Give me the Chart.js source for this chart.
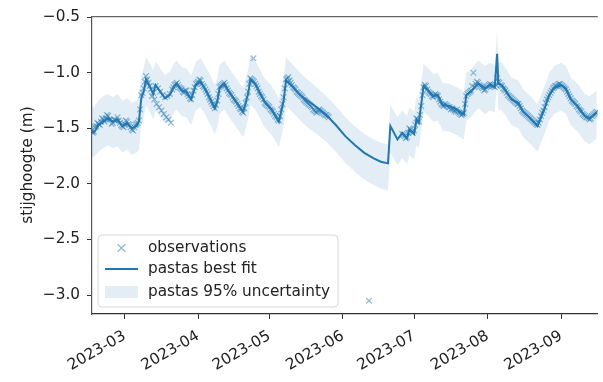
<!DOCTYPE html>
<html>
<head>
<meta charset="utf-8">
<script src="https://cdn.jsdelivr.net/npm/chart.js@4/dist/chart.umd.min.js"></script>
<style>
  html, body { margin: 0; padding: 0; background: #fff; }
  #wrap { width: 603px; height: 382px; position: relative; }
</style>
</head>
<body>
<div id="wrap"><canvas id="c" width="603" height="382"></canvas></div>
<script>
// Groundwater head (stijghoogte) – observations, model fit and 95% band
const fitDates = [
  '2023-02-15','2023-02-16','2023-02-18','2023-02-20','2023-02-22','2023-02-24','2023-02-26','2023-02-28',
  '2023-03-02','2023-03-04','2023-03-06','2023-03-07','2023-03-08','2023-03-09','2023-03-10','2023-03-12',
  '2023-03-13','2023-03-14','2023-03-16','2023-03-18','2023-03-20','2023-03-22','2023-03-23','2023-03-25',
  '2023-03-27','2023-03-29','2023-03-31','2023-04-02','2023-04-04','2023-04-06','2023-04-08','2023-04-09',
  '2023-04-10','2023-04-12','2023-04-14','2023-04-16','2023-04-18','2023-04-20','2023-04-22','2023-04-23',
  '2023-04-25','2023-04-27','2023-04-29','2023-05-02','2023-05-05','2023-05-07','2023-05-08','2023-05-11',
  '2023-05-14','2023-05-17','2023-05-21','2023-05-25','2023-05-29','2023-06-02','2023-06-06','2023-06-10',
  '2023-06-14','2023-06-17','2023-06-20','2023-06-21','2023-06-24','2023-06-26','2023-06-28','2023-06-29',
  '2023-07-01','2023-07-02','2023-07-03','2023-07-05','2023-07-07','2023-07-09','2023-07-11','2023-07-13',
  '2023-07-16','2023-07-19','2023-07-22','2023-07-23','2023-07-25','2023-07-28','2023-07-31','2023-08-02',
  '2023-08-04','2023-08-05','2023-08-05T12:00','2023-08-07','2023-08-09','2023-08-11','2023-08-14','2023-08-16',
  '2023-08-19','2023-08-22','2023-08-25','2023-08-27','2023-08-29','2023-09-01','2023-09-03','2023-09-05',
  '2023-09-08','2023-09-11','2023-09-13','2023-09-16'
];
const fitValues = [
  -1.52,-1.54,-1.47,-1.44,-1.41,-1.44,-1.42,-1.48,
  -1.455,-1.50,-1.48,-1.44,-1.23,-1.17,-1.06,-1.14,
  -1.19,-1.11,-1.17,-1.23,-1.20,-1.12,-1.10,-1.16,
  -1.17,-1.24,-1.11,-1.08,-1.15,-1.23,-1.32,-1.26,
  -1.14,-1.10,-1.17,-1.23,-1.29,-1.35,-1.19,-1.06,
  -1.10,-1.18,-1.26,-1.33,-1.44,-1.25,-1.07,-1.13,
  -1.20,-1.25,-1.31,-1.38,-1.47,-1.57,-1.65,-1.72,
  -1.77,-1.80,-1.815,-1.48,-1.60,-1.54,-1.59,-1.51,
  -1.55,-1.42,-1.45,-1.12,-1.16,-1.21,-1.20,-1.29,
  -1.30,-1.33,-1.375,-1.20,-1.17,-1.095,-1.14,-1.11,
  -1.13,-0.83,-1.10,-1.11,-1.17,-1.24,-1.27,-1.35,
  -1.41,-1.48,-1.32,-1.20,-1.14,-1.11,-1.14,-1.24,
  -1.30,-1.39,-1.41,-1.36
];
const bandUpper = [
  -1.30,-1.31,-1.25,-1.21,-1.19,-1.22,-1.19,-1.25,
  -1.23,-1.27,-1.25,-1.22,-1.02,-0.96,-0.86,-0.93,
  -0.98,-0.90,-0.96,-1.02,-0.99,-0.91,-0.89,-0.95,
  -0.96,-1.03,-0.90,-0.87,-0.94,-1.02,-1.11,-1.05,
  -0.93,-0.89,-0.96,-1.02,-1.08,-1.14,-0.98,-0.85,
  -0.89,-0.97,-1.05,-1.12,-1.23,-1.04,-0.86,-0.93,
  -1.00,-1.06,-1.13,-1.21,-1.30,-1.40,-1.48,-1.55,
  -1.60,-1.63,-1.645,-1.29,-1.40,-1.34,-1.39,-1.31,
  -1.35,-1.22,-1.25,-0.92,-0.96,-1.01,-1.00,-1.09,
  -1.10,-1.13,-1.17,-1.00,-0.97,-0.89,-0.94,-0.91,
  -0.93,-0.62,-0.90,-0.91,-0.97,-1.04,-1.07,-1.15,
  -1.21,-1.28,-1.12,-1.00,-0.94,-0.91,-0.94,-1.04,
  -1.10,-1.19,-1.21,-1.16
];
const bandLower = [
  -1.74,-1.76,-1.71,-1.68,-1.65,-1.68,-1.66,-1.72,
  -1.69,-1.74,-1.72,-1.69,-1.47,-1.41,-1.29,-1.37,
  -1.42,-1.34,-1.40,-1.46,-1.43,-1.35,-1.33,-1.39,
  -1.40,-1.47,-1.34,-1.31,-1.38,-1.46,-1.55,-1.49,
  -1.37,-1.33,-1.40,-1.46,-1.52,-1.58,-1.42,-1.29,
  -1.33,-1.41,-1.49,-1.56,-1.67,-1.48,-1.30,-1.36,
  -1.43,-1.49,-1.55,-1.62,-1.71,-1.81,-1.89,-1.96,
  -2.01,-2.04,-2.06,-1.72,-1.83,-1.77,-1.82,-1.74,
  -1.78,-1.65,-1.68,-1.35,-1.39,-1.44,-1.43,-1.52,
  -1.53,-1.56,-1.60,-1.43,-1.40,-1.32,-1.37,-1.34,
  -1.36,-1.06,-1.33,-1.34,-1.40,-1.47,-1.50,-1.58,
  -1.64,-1.71,-1.55,-1.43,-1.37,-1.34,-1.37,-1.47,
  -1.53,-1.62,-1.64,-1.59
];

// daily readings (midnight)
const obsDates = [
  '2023-02-15','2023-02-16','2023-02-17','2023-02-18','2023-02-19','2023-02-20','2023-02-21','2023-02-22',
  '2023-02-23','2023-02-24','2023-02-25','2023-02-26','2023-02-27','2023-02-28','2023-03-01','2023-03-02',
  '2023-03-03','2023-03-04','2023-03-05','2023-03-06','2023-03-07','2023-03-08','2023-03-09','2023-03-10',
  '2023-03-11','2023-03-12','2023-03-13','2023-03-13T12:00','2023-03-14','2023-03-14T12:00','2023-03-15','2023-03-15T12:00',
  '2023-03-16','2023-03-16T12:00','2023-03-17','2023-03-17T12:00','2023-03-18','2023-03-18T12:00','2023-03-19','2023-03-19T12:00',
  '2023-03-20','2023-03-20T12:00','2023-03-21','2023-03-22','2023-03-23','2023-03-24','2023-03-25','2023-03-26',
  '2023-03-27','2023-03-28','2023-03-29','2023-03-30','2023-03-31','2023-04-01','2023-04-02','2023-04-03',
  '2023-04-04','2023-04-05','2023-04-06','2023-04-07','2023-04-08','2023-04-09','2023-04-10','2023-04-11',
  '2023-04-12','2023-04-13','2023-04-14','2023-04-15','2023-04-16','2023-04-17','2023-04-18','2023-04-19',
  '2023-04-20','2023-04-21','2023-04-22','2023-04-23','2023-04-24','2023-04-24T06:00','2023-04-25','2023-04-26',
  '2023-04-27','2023-04-28','2023-04-29','2023-04-30','2023-05-01','2023-05-02','2023-05-03','2023-05-04',
  '2023-05-05','2023-05-06','2023-05-07','2023-05-08','2023-05-09','2023-05-10','2023-05-11','2023-05-12',
  '2023-05-13','2023-05-14','2023-05-15','2023-05-16','2023-05-17','2023-05-18','2023-05-19','2023-05-20',
  '2023-05-21','2023-05-22','2023-05-23','2023-05-24','2023-05-25','2023-05-26','2023-06-12',
  '2023-06-26','2023-06-27','2023-06-28','2023-06-29','2023-06-30','2023-07-01','2023-07-02','2023-07-03',
  '2023-07-04','2023-07-05','2023-07-06','2023-07-07','2023-07-08','2023-07-09','2023-07-10','2023-07-11',
  '2023-07-12','2023-07-13','2023-07-14','2023-07-15','2023-07-16','2023-07-17','2023-07-18','2023-07-19',
  '2023-07-20','2023-07-21','2023-07-22','2023-07-23','2023-07-24','2023-07-25','2023-07-26','2023-07-26T12:00',
  '2023-07-27','2023-07-28','2023-07-29','2023-07-30','2023-07-31','2023-08-01','2023-08-02','2023-08-03',
  '2023-08-04','2023-08-05','2023-08-06','2023-08-07','2023-08-08','2023-08-09','2023-08-10','2023-08-11',
  '2023-08-12','2023-08-13','2023-08-14','2023-08-15','2023-08-16','2023-08-17','2023-08-18','2023-08-19',
  '2023-08-20','2023-08-21','2023-08-22','2023-08-23','2023-08-24','2023-08-25','2023-08-26','2023-08-27',
  '2023-08-28','2023-08-29','2023-08-30','2023-08-31','2023-09-01','2023-09-02','2023-09-03','2023-09-04',
  '2023-09-05','2023-09-06','2023-09-07','2023-09-08','2023-09-09','2023-09-10','2023-09-11','2023-09-12',
  '2023-09-13','2023-09-14','2023-09-15','2023-09-16'
];
const obsValues = [
  -1.50,-1.53,-1.48,-1.46,-1.44,-1.42,-1.41,-1.39,
  -1.42,-1.45,-1.43,-1.40,-1.45,-1.48,-1.46,-1.44,
  -1.47,-1.51,-1.49,-1.46,-1.43,-1.20,-1.14,-1.03,
  -1.09,-1.15,-1.18,-1.24,-1.12,-1.28,-1.14,-1.31,
  -1.17,-1.34,-1.20,-1.37,-1.22,-1.40,-1.21,-1.42,
  -1.19,-1.45,-1.15,-1.11,-1.09,-1.13,-1.15,-1.18,
  -1.16,-1.21,-1.24,-1.16,-1.10,-1.08,-1.07,-1.12,
  -1.15,-1.19,-1.24,-1.28,-1.32,-1.25,-1.13,-1.11,
  -1.09,-1.14,-1.18,-1.20,-1.24,-1.26,-1.30,-1.33,
  -1.36,-1.27,-1.17,-1.05,-1.07,-0.87,-1.10,-1.14,
  -1.19,-1.22,-1.27,-1.29,-1.31,-1.34,-1.37,-1.40,
  -1.43,-1.33,-1.22,-1.06,-1.04,-1.09,-1.13,-1.15,
  -1.18,-1.20,-1.22,-1.25,-1.27,-1.29,-1.31,-1.34,
  -1.36,-1.33,-1.35,-1.37,-1.38,-1.40,-3.05,
  -1.55,-1.57,-1.58,-1.50,-1.53,-1.52,-1.41,-1.44,
  -1.30,-1.13,-1.12,-1.17,-1.19,-1.22,-1.19,-1.21,
  -1.26,-1.29,-1.28,-1.30,-1.31,-1.32,-1.34,-1.33,
  -1.36,-1.38,-1.36,-1.21,-1.18,-1.16,-1.00,-1.13,
  -1.10,-1.09,-1.12,-1.14,-1.15,-1.12,-1.10,-1.12,
  -1.13,-1.05,-1.09,-1.12,-1.15,-1.18,-1.21,-1.23,
  -1.25,-1.27,-1.28,-1.32,-1.35,-1.37,-1.39,-1.41,
  -1.43,-1.45,-1.47,-1.42,-1.36,-1.31,-1.24,-1.20,
  -1.16,-1.13,-1.12,-1.10,-1.11,-1.13,-1.15,-1.19,
  -1.23,-1.26,-1.28,-1.31,-1.34,-1.37,-1.39,-1.40,
  -1.42,-1.39,-1.37,-1.35
];

// midday readings
const obsNoonDates = [
  '2023-02-15T12:00','2023-02-16T12:00','2023-02-17T12:00','2023-02-18T12:00','2023-02-19T12:00','2023-02-20T12:00',
  '2023-02-21T12:00','2023-02-22T12:00','2023-02-23T12:00','2023-02-24T12:00','2023-02-25T12:00','2023-02-26T12:00',
  '2023-02-27T12:00','2023-02-28T12:00','2023-03-01T12:00','2023-03-02T12:00','2023-03-03T12:00','2023-03-04T12:00',
  '2023-03-05T12:00','2023-03-06T12:00','2023-03-07T12:00','2023-03-08T12:00','2023-03-09T12:00','2023-03-10T12:00',
  '2023-03-11T12:00','2023-03-12T12:00',
  '2023-03-21T12:00','2023-03-22T12:00','2023-03-23T12:00','2023-03-24T12:00','2023-03-25T12:00','2023-03-26T12:00',
  '2023-03-27T12:00','2023-03-28T12:00','2023-03-29T12:00','2023-03-30T12:00','2023-03-31T12:00','2023-04-01T12:00',
  '2023-04-02T12:00','2023-04-03T12:00','2023-04-04T12:00','2023-04-05T12:00','2023-04-06T12:00','2023-04-07T12:00',
  '2023-04-08T12:00','2023-04-09T12:00','2023-04-10T12:00','2023-04-11T12:00','2023-04-12T12:00','2023-04-13T12:00',
  '2023-04-14T12:00','2023-04-15T12:00','2023-04-16T12:00','2023-04-17T12:00','2023-04-18T12:00','2023-04-19T12:00',
  '2023-04-20T12:00','2023-04-21T12:00','2023-04-22T12:00','2023-04-23T12:00','2023-04-24T12:00','2023-04-25T12:00',
  '2023-04-26T12:00','2023-04-27T12:00','2023-04-28T12:00','2023-04-29T12:00','2023-04-30T12:00','2023-05-01T12:00',
  '2023-05-02T12:00','2023-05-03T12:00','2023-05-04T12:00','2023-05-05T12:00','2023-05-06T12:00','2023-05-07T12:00',
  '2023-05-08T12:00','2023-05-09T12:00','2023-05-10T12:00','2023-05-11T12:00','2023-05-12T12:00','2023-05-13T12:00',
  '2023-05-14T12:00','2023-05-15T12:00','2023-05-16T12:00','2023-05-17T12:00','2023-05-18T12:00','2023-05-19T12:00',
  '2023-05-20T12:00','2023-05-21T12:00','2023-05-22T12:00','2023-05-23T12:00','2023-05-24T12:00','2023-05-25T12:00',
  '2023-06-26T12:00','2023-06-27T12:00','2023-06-28T12:00','2023-06-29T12:00','2023-06-30T12:00','2023-07-01T12:00',
  '2023-07-02T12:00','2023-07-03T12:00','2023-07-04T12:00','2023-07-05T12:00','2023-07-06T12:00','2023-07-07T12:00',
  '2023-07-08T12:00','2023-07-09T12:00','2023-07-10T12:00','2023-07-11T12:00','2023-07-12T12:00','2023-07-13T12:00',
  '2023-07-14T12:00','2023-07-15T12:00','2023-07-16T12:00','2023-07-17T12:00','2023-07-18T12:00','2023-07-19T12:00',
  '2023-07-20T12:00','2023-07-21T12:00','2023-07-22T12:00','2023-07-23T12:00','2023-07-24T12:00','2023-07-25T12:00',
  '2023-07-27T12:00','2023-07-28T12:00','2023-07-29T12:00','2023-07-30T12:00','2023-07-31T12:00','2023-08-01T12:00',
  '2023-08-02T12:00','2023-08-03T12:00','2023-08-04T12:00','2023-08-05T12:00','2023-08-06T12:00','2023-08-07T12:00',
  '2023-08-08T12:00','2023-08-09T12:00','2023-08-10T12:00','2023-08-11T12:00','2023-08-12T12:00','2023-08-13T12:00',
  '2023-08-14T12:00','2023-08-15T12:00','2023-08-16T12:00','2023-08-17T12:00','2023-08-18T12:00','2023-08-19T12:00',
  '2023-08-20T12:00','2023-08-21T12:00','2023-08-22T12:00','2023-08-23T12:00','2023-08-24T12:00','2023-08-25T12:00',
  '2023-08-26T12:00','2023-08-27T12:00','2023-08-28T12:00','2023-08-29T12:00','2023-08-30T12:00','2023-08-31T12:00',
  '2023-09-01T12:00','2023-09-02T12:00','2023-09-03T12:00','2023-09-04T12:00','2023-09-05T12:00','2023-09-06T12:00',
  '2023-09-07T12:00','2023-09-08T12:00','2023-09-09T12:00','2023-09-10T12:00','2023-09-11T12:00','2023-09-12T12:00',
  '2023-09-13T12:00','2023-09-14T12:00','2023-09-15T12:00'
];
const obsNoonValues = [
  -1.54,-1.49,-1.45,-1.47,-1.41,-1.44,
  -1.38,-1.42,-1.46,-1.42,-1.43,-1.43,
  -1.47,-1.49,-1.43,-1.46,-1.49,-1.52,
  -1.47,-1.45,-1.33,-1.18,-1.08,-1.06,
  -1.12,-1.21,
  -1.13,-1.10,-1.11,-1.14,-1.17,-1.16,
  -1.19,-1.23,-1.20,-1.13,-1.09,-1.06,
  -1.10,-1.13,-1.17,-1.22,-1.26,-1.30,
  -1.29,-1.19,-1.12,-1.10,-1.11,-1.16,
  -1.19,-1.22,-1.25,-1.28,-1.32,-1.35,
  -1.32,-1.22,-1.10,-1.06,-1.08,-1.12,
  -1.17,-1.21,-1.24,-1.28,-1.30,-1.33,
  -1.35,-1.39,-1.42,-1.39,-1.28,-1.14,
  -1.05,-1.07,-1.11,-1.14,-1.17,-1.19,
  -1.21,-1.24,-1.26,-1.28,-1.30,-1.33,
  -1.35,-1.34,-1.34,-1.36,-1.38,-1.39,
  -1.56,-1.59,-1.54,-1.51,-1.54,-1.47,
  -1.42,-1.38,-1.20,-1.11,-1.15,-1.18,
  -1.21,-1.20,-1.20,-1.24,-1.28,-1.30,
  -1.29,-1.31,-1.33,-1.33,-1.35,-1.35,
  -1.37,-1.37,-1.28,-1.19,-1.17,-1.12,
  -1.08,-1.11,-1.13,-1.16,-1.13,-1.11,
  -1.11,-1.12,-1.11,-1.08,-1.11,-1.14,
  -1.16,-1.20,-1.22,-1.24,-1.26,-1.28,
  -1.30,-1.34,-1.36,-1.38,-1.40,-1.42,
  -1.44,-1.46,-1.45,-1.39,-1.34,-1.27,
  -1.22,-1.18,-1.14,-1.12,-1.11,-1.10,
  -1.12,-1.14,-1.17,-1.21,-1.25,-1.27,
  -1.30,-1.33,-1.35,-1.38,-1.40,-1.41,
  -1.41,-1.38,-1.36
];

const yTickValues = [-3.0, -2.5, -2.0, -1.5, -1.0, -0.5];
const monthTicks = ['2023-03','2023-04','2023-05','2023-06','2023-07','2023-08','2023-09'];
const labels = {
  yTitle: 'stijghoogte (m)',
  obs: 'observations',
  fit: 'pastas best fit',
  band: 'pastas 95% uncertainty'
};

const toMs = s => Date.parse(s.length === 10 ? s + 'T00:00:00Z' : s + 'Z');
const pts = (dates, vals) => dates.map((d, i) => ({ x: toMs(d), y: vals[i] }));

const C0 = '#1f77b4';
const bandFill = 'rgba(31,119,180,0.13)';
const obsColor = 'rgba(31,119,180,0.5)';
const FONT = '"DejaVu Sans", sans-serif';
const FS = 15.3;
const TXT = '#222';

// frame on top (right edge runs off the canvas) and the in-axes legend
const decor = {
  id: 'decor',
  afterDraw(chart) {
    const { ctx, chartArea: a } = chart;
    ctx.save();
    ctx.strokeStyle = '#666';
    ctx.lineWidth = 1.2;
    ctx.beginPath();
    ctx.moveTo(a.left, a.top + 0.5);
    ctx.lineTo(a.right, a.top + 0.5);
    ctx.stroke();

    // legend box
    const bx = a.left + 6, by = a.bottom - 79, bw = 240, bh = 72, r = 4;
    ctx.beginPath();
    ctx.moveTo(bx + r, by);
    ctx.arcTo(bx + bw, by, bx + bw, by + bh, r);
    ctx.arcTo(bx + bw, by + bh, bx, by + bh, r);
    ctx.arcTo(bx, by + bh, bx, by, r);
    ctx.arcTo(bx, by, bx + bw, by, r);
    ctx.closePath();
    ctx.fillStyle = 'rgba(255,255,255,0.8)';
    ctx.fill();
    ctx.strokeStyle = '#d6d6d6';
    ctx.lineWidth = 1;
    ctx.stroke();

    const hx = bx + 7, hw = 33, tx = bx + 50;
    const rows = [by + 13, by + 34, by + 57];
    // observations marker
    ctx.strokeStyle = obsColor;
    ctx.lineWidth = 1.3;
    const mx = hx + hw / 2, my = rows[0], m = 3.8;
    ctx.beginPath();
    ctx.moveTo(mx - m, my - m); ctx.lineTo(mx + m, my + m);
    ctx.moveTo(mx - m, my + m); ctx.lineTo(mx + m, my - m);
    ctx.stroke();
    // fit line
    ctx.strokeStyle = C0;
    ctx.lineWidth = 2;
    ctx.beginPath();
    ctx.moveTo(hx, rows[1]); ctx.lineTo(hx + hw, rows[1]);
    ctx.stroke();
    // band patch
    ctx.fillStyle = bandFill;
    ctx.fillRect(hx, rows[2] - 6, hw, 12);

    ctx.fillStyle = TXT;
    ctx.font = FS + 'px ' + FONT;
    ctx.textBaseline = 'middle';
    ctx.textAlign = 'left';
    ctx.fillText(labels.obs, tx, rows[0]);
    ctx.fillText(labels.fit, tx, rows[1]);
    ctx.fillText(labels.band, tx, rows[2]);
    ctx.restore();
  }
};

const obsStyle = {
  showLine: false, pointStyle: 'crossRot', pointRadius: 4, pointBorderWidth: 1.2,
  pointBorderColor: obsColor, pointBackgroundColor: obsColor, order: 2
};

new Chart(document.getElementById('c'), {
  type: 'line',
  data: {
    datasets: [
      { label: labels.band, data: pts(fitDates, bandUpper), fill: '+1', backgroundColor: bandFill,
        borderWidth: 0, pointRadius: 0, order: 3 },
      { label: 'lower', data: pts(fitDates, bandLower), fill: false,
        borderWidth: 0, pointRadius: 0, order: 3 },
      Object.assign({ label: labels.obs, data: pts(obsDates, obsValues) }, obsStyle),
      Object.assign({ label: labels.obs, data: pts(obsNoonDates, obsNoonValues) }, obsStyle),
      { label: labels.fit, data: pts(fitDates, fitValues), borderColor: C0, borderWidth: 2,
        pointRadius: 0, tension: 0, fill: false, order: 1 }
    ]
  },
  options: {
    responsive: false,
    animation: false,
    parsing: false,
    layout: { padding: { top: 14, right: 0, left: 0, bottom: 0 } },
    plugins: { legend: { display: false }, tooltip: { enabled: false } },
    scales: {
      x: {
        type: 'linear',
        min: Date.UTC(2023, 1, 15, 5, 30),
        max: Date.UTC(2023, 8, 16, 10, 30),
        afterBuildTicks: s => { s.ticks = monthTicks.map(m => ({ value: toMs(m + '-01') })); },
        afterFit: s => { s.height = 68; },
        grid: { drawOnChartArea: false, drawTicks: true, tickLength: 5, color: '#333' },
        border: { display: true, color: '#333', width: 1.2 },
        ticks: {
          autoSkip: false, minRotation: 30, maxRotation: 30, padding: 8,
          color: TXT, font: { family: FONT, size: FS },
          callback: v => {
            const d = new Date(v);
            return d.getUTCFullYear() + '-' + String(d.getUTCMonth() + 1).padStart(2, '0');
          }
        }
      },
      y: {
        type: 'linear',
        min: -3.17,
        max: -0.491,
        afterBuildTicks: s => { s.ticks = yTickValues.map(v => ({ value: v })); },
        afterFit: s => { s.width = 92; },
        grid: { drawOnChartArea: false, drawTicks: true, tickLength: 5, color: '#333' },
        border: { display: true, color: '#555', width: 1.2 },
        title: { display: true, text: labels.yTitle, color: TXT, font: { family: FONT, size: FS },
                 padding: { top: 19, bottom: 0 } },
        ticks: {
          padding: 7, color: TXT, font: { family: FONT, size: FS },
          callback: v => (v < 0 ? '\u2212' : '') + Math.abs(v).toFixed(1)
        }
      }
    }
  },
  plugins: [decor]
});
</script>
</body>
</html>
